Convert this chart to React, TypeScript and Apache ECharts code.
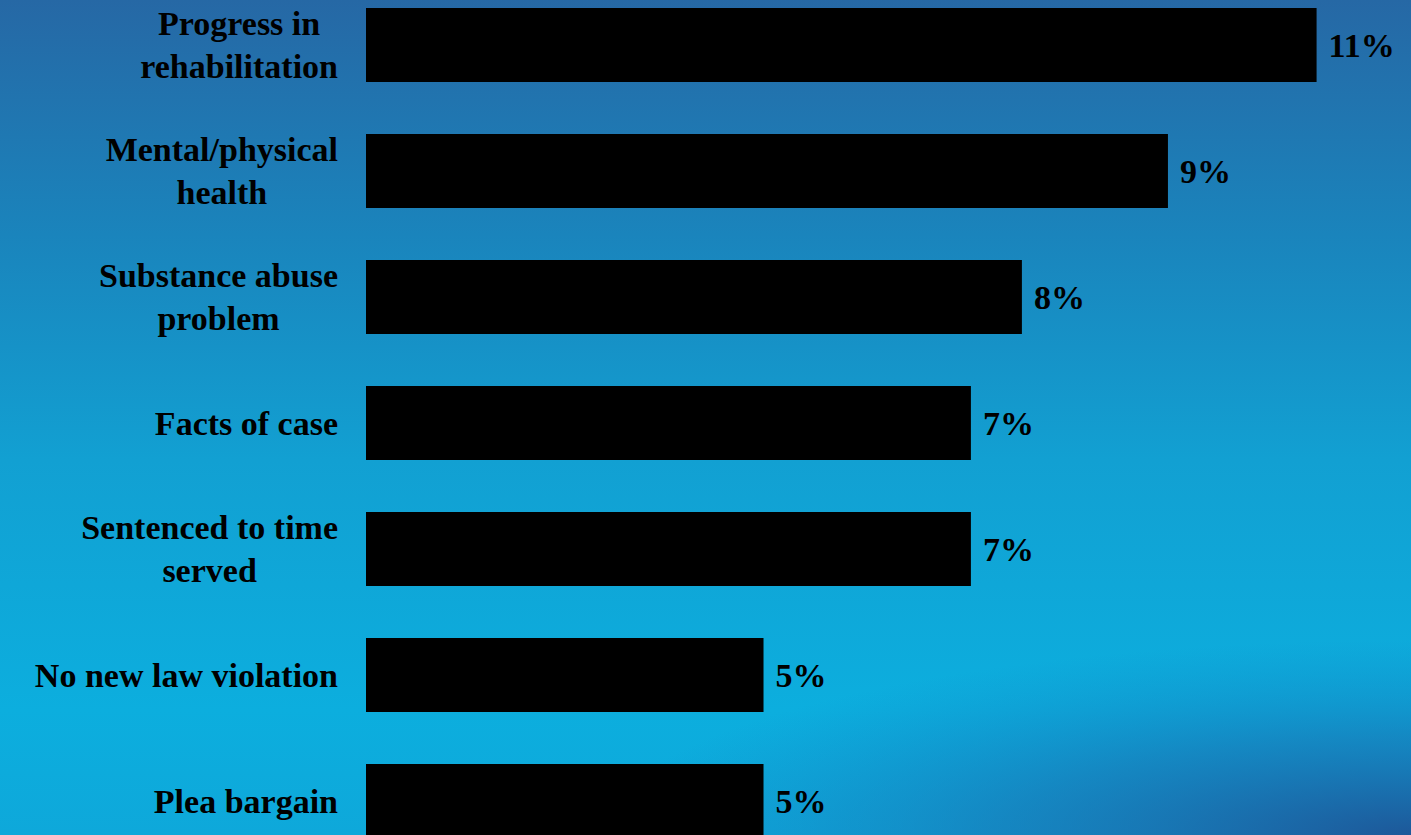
import React, { useEffect, useRef } from "react";
import * as echarts from "echarts";

const categories: string[] = [
  "Progress in\nrehabilitation",
  "Mental/physical\nhealth",
  "Substance abuse\nproblem",
  "Facts of case",
  "Sentenced to time\nserved",
  "No new law violation",
  "Plea bargain",
];

// bar lengths (percent); labels show them rounded
const values: number[] = [11.0, 9.28, 7.59, 7.0, 7.0, 4.6, 4.6];

const FONT = "'Liberation Serif', 'Times New Roman', serif";

export default function App() {
  const ref = useRef<HTMLDivElement>(null);

  useEffect(() => {
    if (!ref.current) return;
    const chart = echarts.init(ref.current, undefined, { renderer: "svg" });
    chart.setOption({
      animation: false,
      backgroundColor: {
        type: "linear",
        x: 0,
        y: 0,
        x2: 0,
        y2: 1,
        colorStops: [
          { offset: 0, color: "#2668a5" },
          { offset: 0.28, color: "#1a84bc" },
          { offset: 0.55, color: "#12a0d2" },
          { offset: 0.85, color: "#0caede" },
          { offset: 1, color: "#0ea8da" },
        ],
      },
      graphic: [
        {
          type: "rect",
          z: -10,
          silent: true,
          shape: { x: 600, y: 640, width: 811, height: 195 },
          style: {
            fill: {
              type: "radial",
              x: 1,
              y: 1,
              r: 1,
              colorStops: [
                { offset: 0, color: "rgba(30,84,150,0.95)" },
                { offset: 0.5, color: "rgba(28,100,168,0.5)" },
                { offset: 1, color: "rgba(20,120,190,0)" },
              ],
            },
          },
        },
      ],
      grid: {
        left: 366,
        right: 8,
        top: -18,
        bottom: -29,
        outerBoundsMode: "none",
        containLabel: false,
      },
      xAxis: {
        type: "value",
        min: 0,
        max: 12,
        show: false,
        splitLine: { show: false },
      },
      yAxis: {
        type: "category",
        inverse: true,
        data: categories,
        axisLine: { show: false },
        axisTick: { show: false },
        splitLine: { show: false },
        axisLabel: {
          align: "right",
          margin: 28,
          formatter: (v: string) =>
            v
              .split("\n")
              .map((l) => `{c|${l}}`)
              .join("\n"),
          rich: {
            c: {
              align: "center",
              fontSize: 34,
              fontWeight: "bold",
              fontFamily: FONT,
              color: "#000",
              lineHeight: 43,
            },
          },
        },
      },
      series: [
        {
          type: "bar",
          data: values,
          barWidth: 74,
          itemStyle: { color: "#000" },
          label: {
            show: true,
            position: "right",
            distance: 12,
            formatter: (p: any) => `${Math.round(p.value)}%`,
            fontSize: 34,
            fontWeight: "bold",
            fontFamily: FONT,
            color: "#000",
          },
        },
      ],
    });
    return () => chart.dispose();
  }, []);

  return (
    <div
      ref={ref}
      style={{ position: "fixed", left: 0, top: 0, width: 1411, height: 835 }}
    />
  );
}
